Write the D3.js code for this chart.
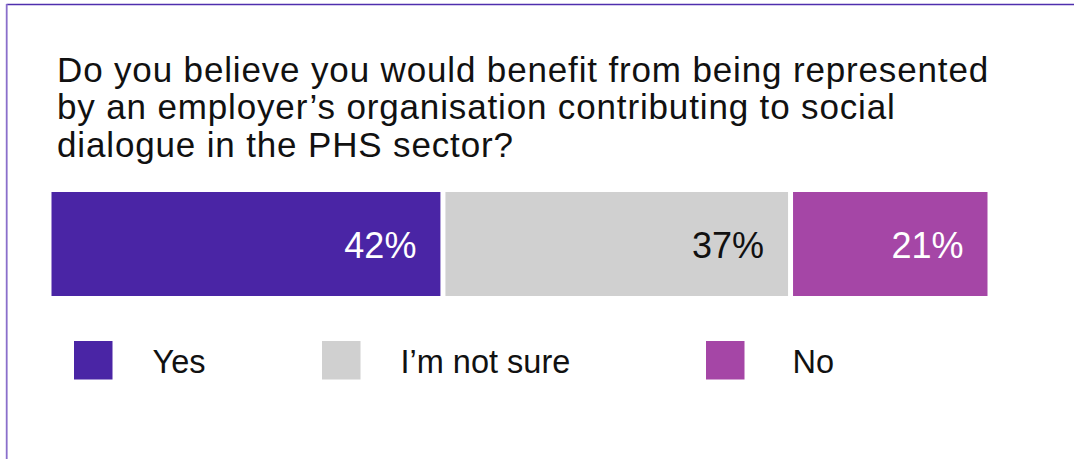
<!DOCTYPE html>
<html>
<head>
<meta charset="utf-8">
<script src="https://cdn.jsdelivr.net/npm/d3@7"></script>
<style>
  html, body { margin: 0; padding: 0; background: #fff; }
  svg { display: block; font-family: "Liberation Sans", Arial, Helvetica, sans-serif; }
</style>
</head>
<body>
<svg id="chart" width="1074" height="459"></svg>
<script>
// Survey answer shares (percent)
const categories = ["Yes", "I’m not sure", "No"];
const values = [42, 37, 21];
const colors = ["#4a25a5", "#d0d0d0", "#a546a6"];
const labelColors = ["#ffffff", "#111111", "#ffffff"];
const titleLines = [
  "Do you believe you would benefit from being represented",
  "by an employer’s organisation contributing to social",
  "dialogue in the PHS sector?"
];

const W = 1074, H = 459;
const svg = d3.select("#chart");

// Frame: top and left rules
svg.append("line").attr("x1", 6.5).attr("x2", W).attr("y1", 4.5).attr("y2", 4.5)
  .attr("stroke", "#4f2fae").attr("stroke-width", 1.6);
svg.append("line").attr("x1", 6.7).attr("x2", 6.7).attr("y1", 4).attr("y2", H)
  .attr("stroke", "#8a6fcb").attr("stroke-width", 1.8);

// Title
const title = svg.append("text").attr("x", 57).attr("y", 81.5)
  .attr("font-size", 35).attr("letter-spacing", 0.85).attr("fill", "#111");
title.selectAll("tspan").data(titleLines).join("tspan")
  .attr("x", 57).attr("dy", (d, i) => i === 0 ? 0 : 37.6).text(d => d);

// Stacked bar
const barLeft = 51.5, barRight = 987.5, gap = 5;
const barTop = 192, barBottom = 296;
const total = d3.sum(values);
const usable = (barRight - barLeft) - gap * (values.length - 1);
const x = d3.scaleLinear().domain([0, total]).range([0, usable]);

let acc = 0;
const segs = values.map((v, i) => {
  const s = { v, i, x0: barLeft + x(acc) + gap * i, w: x(v) };
  acc += v;
  return s;
});

const g = svg.append("g");
g.selectAll("rect").data(segs).join("rect")
  .attr("x", d => d.x0).attr("y", barTop)
  .attr("width", d => d.w).attr("height", barBottom - barTop)
  .attr("fill", d => colors[d.i]);

g.selectAll("text").data(segs).join("text")
  .attr("x", d => d.x0 + d.w - 24)
  .attr("y", 257.5)
  .attr("text-anchor", "end")
  .attr("font-size", 36)
  .attr("fill", d => labelColors[d.i])
  .text(d => d.v + "%");

// Legend
const legendX = [74, 322, 706];
const lg = svg.append("g").selectAll("g").data(categories).join("g")
  .attr("transform", (d, i) => `translate(${legendX[i]},341)`);
lg.append("rect").attr("width", 38.5).attr("height", 38.5)
  .attr("fill", (d, i) => colors[i]);
lg.append("text").attr("x", (d, i) => i === 2 ? 86.5 : 78.5).attr("y", 32)
  .attr("font-size", 32.5).attr("fill", "#111").text(d => d);
</script>
</body>
</html>
